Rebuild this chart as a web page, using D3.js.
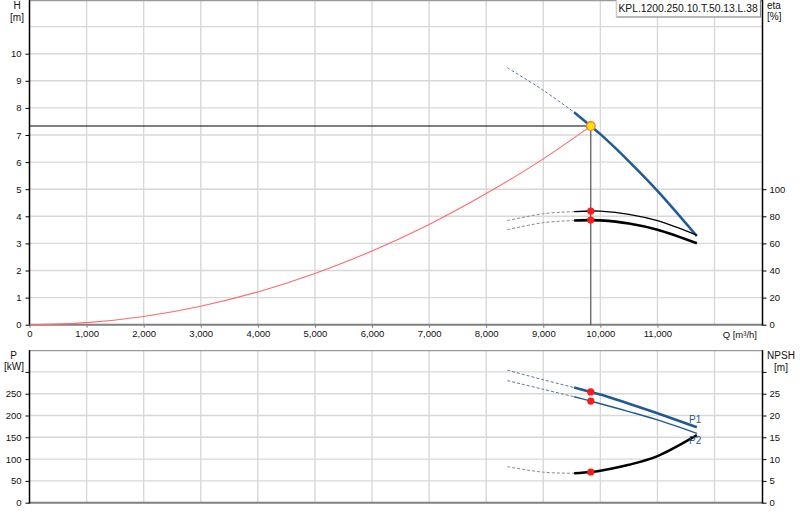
<!DOCTYPE html>
<html>
<head>
<meta charset="utf-8">
<script src="https://cdn.jsdelivr.net/npm/d3@7"></script>
<style>
  body { margin: 0; background: #fff; }
  svg { display: block; font-family: "Liberation Sans", Arial, sans-serif; }
</style>
</head>
<body>
<svg id="chart" width="800" height="520"></svg>
<script>
// values
const qTicks = [0, 1000, 2000, 3000, 4000, 5000, 6000, 7000, 8000, 9000, 10000, 11000];
const hTicks = [0, 1, 2, 3, 4, 5, 6, 7, 8, 9, 10];
const etaTicks = [0, 20, 40, 60, 80, 100];
const pTicks = [0, 50, 100, 150, 200, 250];
const npshTicks = [0, 5, 10, 15, 20, 25];

// pump curve points (m3/h), solid from stableQ on
const pumpQ = [8370, 9000, 9540, 9832, 10000, 10500, 11000, 11690];
const stableQ = 9540;
const head = [9.48, 8.65, 7.84, 7.33, 7.03, 6.03, 4.94, 3.27];
const etaHyd = [76.8, 81.9, 83.5, 83.9, 83.8, 81.5, 76.8, 66.1];
const etaTot = [70.1, 75.3, 76.9, 77.2, 77.0, 74.7, 70.1, 60.1];
const powerP1 = [304, 282, 264, 254, 248, 227, 205, 173];
const powerP2 = [280, 260, 243, 233, 227, 209, 190, 159];
const npsh = [8.26, 7.00, 6.74, 7.04, 7.34, 8.7, 10.7, 15.5];

// system curve
const sysQ = [0, 1000, 2000, 3000, 4000, 5000, 6000, 7000, 8000, 9000, 9832];
const sysH = [0, 0.075, 0.30, 0.68, 1.21, 1.89, 2.72, 3.70, 4.84, 6.12, 7.33];

// duty point
const dutyQ = 9832;
const dutyH = 7.33;
const dutyEta = [83.9, 77.2];
const dutyP = [254, 233];
const dutyNpsh = 7.04;

const typeLabel = "KPL.1200.250.10.T.50.13.L.38";

const svg = d3.select("#chart");
const left = 29.5, right = 762.5;
const blue = "#1f5a96";
const gridCol = "#d8d8d8";

const x = d3.scaleLinear().domain([0, 12840]).range([left, right]);
const yH = d3.scaleLinear().domain([0, 12]).range([324.7, -0.5]);
const yEta = d3.scaleLinear().domain([0, 240]).range([324.7, -0.5]);
const yP = d3.scaleLinear().domain([0, 350]).range([502.7, 350.1]);
const yN = d3.scaleLinear().domain([0, 35]).range([502.7, 350.1]);

const gridQ = d3.range(1000, 12001, 1000);

function grid(yScale, yVals, top, bottom) {
  const g = svg.append("g");
  g.selectAll(".v").data(gridQ).enter().append("line")
    .attr("x1", d => x(d)).attr("x2", d => x(d))
    .attr("y1", top).attr("y2", bottom)
    .attr("stroke", gridCol).attr("stroke-width", 1.4);
  g.selectAll(".h").data(yVals).enter().append("line")
    .attr("x1", left).attr("x2", right)
    .attr("y1", d => yScale(d)).attr("y2", d => yScale(d))
    .attr("stroke", gridCol).attr("stroke-width", 1.4);
  // frame top
  g.append("line").attr("x1", left).attr("x2", right)
    .attr("y1", top + 0.5).attr("y2", top + 0.5)
    .attr("stroke", "#9a9a9a").attr("stroke-width", 1.4);
}

grid(yH, d3.range(1, 12), 0, 324.7);
grid(yP, [50, 100, 150, 200, 250, 300], 350.1, 502.7);

// axes
function styleAxis(g) {
  g.selectAll("text").attr("font-size", "9.5px").attr("fill", "#111")
    .attr("font-family", "'Liberation Sans', Arial, sans-serif");
  g.selectAll("line").attr("stroke", "#000");
  g.select(".domain").remove();
}

const xAxisTop = svg.append("g").attr("transform", "translate(0,324.7)")
  .call(d3.axisBottom(x).tickValues(qTicks).tickSize(3).tickPadding(3)
    .tickFormat(d3.format(",")));
styleAxis(xAxisTop);
xAxisTop.selectAll("line").attr("stroke", "#777");

const hAxis = svg.append("g").attr("transform", `translate(${left},0)`)
  .call(d3.axisLeft(yH).tickValues(hTicks).tickSize(4).tickPadding(4));
styleAxis(hAxis);

const etaAxis = svg.append("g").attr("transform", `translate(${right},0)`)
  .call(d3.axisRight(yEta).tickValues(etaTicks).tickSize(4).tickPadding(3));
styleAxis(etaAxis);

const pAxis = svg.append("g").attr("transform", `translate(${left},0)`)
  .call(d3.axisLeft(yP).tickValues(pTicks.concat([300])).tickSize(4).tickPadding(4)
    .tickFormat(d => d === 300 ? "" : d));
styleAxis(pAxis);

const nAxis = svg.append("g").attr("transform", `translate(${right},0)`)
  .call(d3.axisRight(yN).tickValues(npshTicks.concat([30])).tickSize(4).tickPadding(3)
    .tickFormat(d => d === 30 ? "" : d));
styleAxis(nAxis);

// axis lines
svg.append("line").attr("x1", left).attr("x2", right).attr("y1", 324.7).attr("y2", 324.7)
  .attr("stroke", "#808080").attr("stroke-width", 2);
svg.append("line").attr("x1", left).attr("x2", right).attr("y1", 502.7).attr("y2", 502.7)
  .attr("stroke", "#808080").attr("stroke-width", 2);
[[0, 325.5], [350.1, 503.5]].forEach(([t, b]) => {
  svg.append("line").attr("x1", left).attr("x2", left).attr("y1", t).attr("y2", b)
    .attr("stroke", "#000").attr("stroke-width", 1.5);
  svg.append("line").attr("x1", right).attr("x2", right).attr("y1", t).attr("y2", b)
    .attr("stroke", "#000").attr("stroke-width", 1.5);
});

// axis titles
function label(txt, xPos, yPos, anchor) {
  svg.append("text").attr("x", xPos).attr("y", yPos)
    .attr("text-anchor", anchor || "middle")
    .attr("font-size", "10px").attr("fill", "#111").text(txt);
}
label("H", 17, 9);
label("[m]", 17, 21);
label("eta", 767, 9, "start");
label("[%]", 767, 20, "start");
label("P", 13.5, 359);
label("[kW]", 14, 370);
label("NPSH", 781, 359);
label("[m]", 781, 370.5);
svg.append("text").attr("x", 757).attr("y", 337.5).attr("text-anchor", "end")
  .attr("font-size", "9.5px").attr("fill", "#111").text("Q [m³/h]");

// type label box
svg.append("rect").attr("x", 616.5).attr("y", -2).attr("width", 144).attr("height", 19)
  .attr("fill", "#fff").attr("stroke", "#8a8a8a").attr("stroke-width", 1.2);
svg.append("line").attr("x1", 616.5).attr("x2", 616.5).attr("y1", 0).attr("y2", 17)
  .attr("stroke", "#d0d0d0").attr("stroke-width", 1.2);
svg.append("text").attr("x", 618.5).attr("y", 12)
  .attr("font-size", "10.3px").attr("fill", "#111").text(typeLabel);

// curves
function pts(vals) { return pumpQ.map((q, i) => ({ q: q, v: vals[i] })); }

function drawSeries(vals, yScale, solidStyle, dashStyle) {
  const all = pts(vals);
  const line = d3.line().x(d => x(d.q)).y(d => yScale(d.v))
    .curve(d3.curveCatmullRom.alpha(0.5));
  const dashPart = all.filter(d => d.q <= stableQ);
  const solidPart = all.filter(d => d.q >= stableQ);
  svg.append("path").datum(dashPart).attr("d", line).attr("fill", "none")
    .attr("stroke", dashStyle.color).attr("stroke-width", dashStyle.width)
    .attr("stroke-dasharray", "3,2");
  svg.append("path").datum(solidPart).attr("d", line).attr("fill", "none")
    .attr("stroke", solidStyle.color).attr("stroke-width", solidStyle.width);
}

// system curve
const sysLine = d3.line().x((d, i) => x(sysQ[i])).y(d => yH(d)).curve(d3.curveMonotoneX);
svg.append("path").datum(sysH).attr("d", sysLine).attr("fill", "none")
  .attr("stroke", "#ff6a6a").attr("stroke-width", 1.1);

// duty lines
svg.append("line").attr("x1", left).attr("x2", x(dutyQ)).attr("y1", yH(dutyH)).attr("y2", yH(dutyH))
  .attr("stroke", "#000").attr("stroke-width", 1.1);
svg.append("line").attr("x1", x(dutyQ)).attr("x2", x(dutyQ)).attr("y1", yH(dutyH)).attr("y2", 324.7)
  .attr("stroke", "#444").attr("stroke-width", 1.1);

drawSeries(head, yH, { color: blue, width: 2.5 }, { color: "#5a78a4", width: 1 });
drawSeries(etaHyd, yEta, { color: "#000", width: 1.3 }, { color: "#8a8a8a", width: 1 });
drawSeries(etaTot, yEta, { color: "#000", width: 2.6 }, { color: "#8a8a8a", width: 1 });
drawSeries(powerP1, yP, { color: blue, width: 2.6 }, { color: "#5a78a4", width: 1 });
drawSeries(powerP2, yP, { color: blue, width: 1.4 }, { color: "#5a78a4", width: 1 });
drawSeries(npsh, yN, { color: "#000", width: 2.4 }, { color: "#8a8a8a", width: 1 });

// P labels
svg.append("text").attr("x", 689).attr("y", 422.5).attr("font-size", "10px")
  .attr("fill", blue).text("P1");
svg.append("text").attr("x", 689).attr("y", 443.5).attr("font-size", "10px")
  .attr("fill", blue).text("P2");

// duty markers
const reds = [
  [dutyEta[0], yEta], [dutyEta[1], yEta],
  [dutyP[0], yP], [dutyP[1], yP], [dutyNpsh, yN]
];
svg.selectAll(".duty").data(reds).enter().append("circle")
  .attr("cx", x(dutyQ)).attr("cy", d => d[1](d[0])).attr("r", 3.6)
  .attr("fill", "#ff1a1a");

svg.append("circle").attr("cx", x(dutyQ)).attr("cy", yH(dutyH)).attr("r", 4.3)
  .attr("fill", "#ffe600").attr("stroke", "#ff7a33").attr("stroke-width", 1.3);
</script>
</body>
</html>
